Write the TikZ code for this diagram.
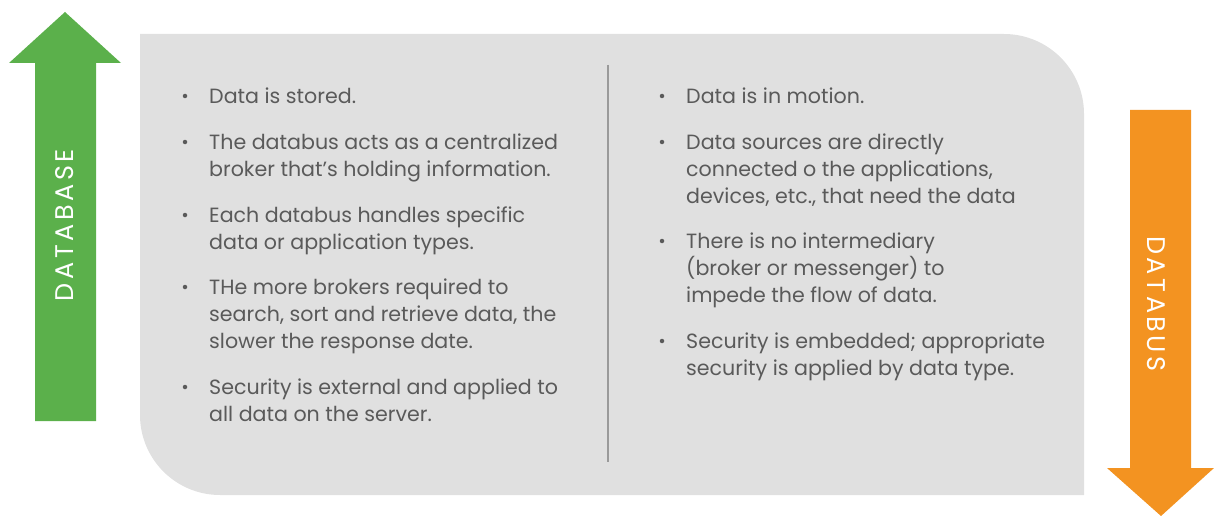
\documentclass[tikz,border=0pt]{standalone}
\usepackage{fontspec}
\setmainfont{Poppins}
\newfontfamily\labelfont[LetterSpace=14]{Poppins}
\definecolor{panelgray}{HTML}{E0E0E0}
\definecolor{textgray}{HTML}{5A5A5A}
\definecolor{rulegray}{HTML}{9A9A9A}
\definecolor{upgreen}{HTML}{5BB04B}
\definecolor{downorange}{HTML}{F39321}
% stacked lines whose reference point is the first baseline
\newcommand\linestack[1]{\vtop{\baselineskip=27pt\lineskiplimit=-10pt\halign{##\hfil\cr#1\crcr}}}
\tikzset{
  item/.style={anchor=base west, inner sep=0pt, text=textgray,
    font=\fontsize{20.6}{27}\selectfont},
  dot/.style={circle, fill=textgray, inner sep=0pt, minimum size=4.5pt},
  arrowlabel/.style={text=white, inner sep=0pt, font=\labelfont\fontsize{25.5}{25.5}\selectfont},
}
\begin{document}
\begin{tikzpicture}[x=1pt,y=-1pt]
  \useasboundingbox (0,0) rectangle (1214,516);

  % shared panel with two rounded corners
  \fill[panelgray] (140,34) -- (1004,34) arc[start angle=-90, end angle=0, radius=80]
    -- (1084,495) -- (220,495) arc[start angle=90, end angle=180, radius=80] -- cycle;

  % column divider
  \coordinate (divtop) at (608,65);
  \coordinate (divbot) at (608,462);
  \draw[rulegray, line width=2pt] (divtop) -- (divbot);

  % upward arrow
  \fill[upgreen] (35,421) -- (35,63) -- (9,63) -- (65,12) -- (121,63) -- (96,63) -- (96,421) -- cycle;
  \node[arrowlabel, rotate=90] (dblabel) at (64.5,225) {DATABASE};

  % downward arrow
  \fill[downorange] (1130,110) -- (1191,110) -- (1191,468) -- (1214,468) -- (1161,516)
    -- (1107,468) -- (1130,468) -- cycle;
  \node[arrowlabel, rotate=-90] (dbuslabel) at (1156.5,304) {DATABUS};

  % left column
  \node[item] (l1) at (209,103) {\linestack{Data is stored.}};
  \node[item] (l2) at (209,149) {\linestack{The databus acts as a centralized\cr broker that’s holding information.}};
  \node[item] (l3) at (209,222) {\linestack{Each databus handles specific\cr data or application types.}};
  \node[item] (l4) at (209,294) {\linestack{THe more brokers required to\cr search, sort and retrieve data, the\cr slower the response date.}};
  \node[item] (l5) at (209,394) {\linestack{Security is external and applied to\cr all data on the server.}};
  \foreach \y/\n in {96/a,142/b,215/c,287/d,387/e}
    \node[dot] (ldot\n) at (185,\y) {};

  % right column
  \node[item] (r1) at (686,103) {\linestack{Data is in motion.}};
  \node[item] (r2) at (686,149) {\linestack{Data sources are directly\cr connected o the applications,\cr devices, etc., that need the data}};
  \node[item] (r3) at (686,248) {\linestack{There is no intermediary\cr (broker or messenger) to\cr impede the flow of data.}};
  \node[item] (r4) at (686,348) {\linestack{Security is embedded; appropriate\cr security is applied by data type.}};
  \foreach \y/\n in {96/a,142/b,241/c,341/d}
    \node[dot] (rdot\n) at (662,\y) {};
\end{tikzpicture}
\end{document}
